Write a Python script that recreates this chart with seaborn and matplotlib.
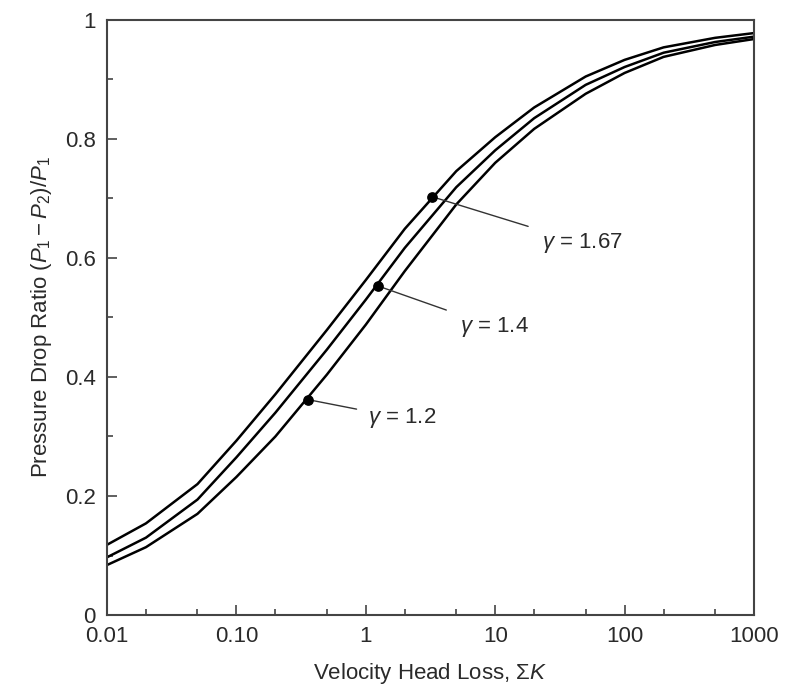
import pandas as pd
import numpy as np
import matplotlib
matplotlib.use('Agg')
import matplotlib.pyplot as plt
import matplotlib.ticker as mticker
import seaborn as sns

# values
k_loss = [0.01, 0.02, 0.05, 0.1, 0.2, 0.5, 1, 2, 5, 10, 20, 50, 100, 200, 500, 1000]
ratio_167 = [0.118, 0.154, 0.220, 0.293, 0.371, 0.479, 0.563, 0.649, 0.746, 0.803,
             0.853, 0.905, 0.933, 0.954, 0.970, 0.978]
ratio_14 = [0.097, 0.130, 0.194, 0.265, 0.340, 0.446, 0.530, 0.617, 0.719, 0.781,
            0.835, 0.891, 0.921, 0.945, 0.963, 0.972]
ratio_12 = [0.084, 0.114, 0.170, 0.232, 0.300, 0.404, 0.488, 0.578, 0.690, 0.760,
            0.817, 0.876, 0.911, 0.938, 0.958, 0.968]
gammas = ['1.67', '1.4', '1.2']

# labelled points on each curve
dot_k = [3.25, 1.24, 0.357]
dot_y = [0.703, 0.553, 0.362]

x_ticks = [0.01, 0.1, 1, 10, 100, 1000]
x_ticklabels = ['0.01', '0.10', '1', '10', '100', '1000']
y_ticks = [0, 0.2, 0.4, 0.6, 0.8, 1.0]
y_ticklabels = ['0', '0.2', '0.4', '0.6', '0.8', '1']

df = pd.DataFrame({
    'K': k_loss * 3,
    'ratio': ratio_167 + ratio_14 + ratio_12,
    'gamma': [g for g in gammas for _ in k_loss],
})

sns.set_style('ticks')
plt.rcParams['font.family'] = ['Liberation Sans', 'DejaVu Sans']
plt.rcParams['mathtext.fontset'] = 'custom'
plt.rcParams['mathtext.rm'] = 'Liberation Sans'
plt.rcParams['mathtext.it'] = 'Liberation Sans:italic'
plt.rcParams['mathtext.bf'] = 'Liberation Sans:bold'

fig = plt.figure(figsize=(7.88, 6.87), dpi=100)
ax = fig.add_axes([0.1358, 0.1048, 0.8211, 0.8661])

sns.lineplot(data=df, x='K', y='ratio', hue='gamma', palette=['black'] * 3,
             linewidth=1.8, legend=False, ax=ax)

ax.set_xscale('log')
ax.set_xlim(0.01, 1000)
ax.set_ylim(0, 1)

ax.set_xticks(x_ticks)
ax.set_xticklabels(x_ticklabels)
ax.xaxis.set_minor_locator(mticker.LogLocator(base=10, subs=(2, 5)))
ax.xaxis.set_minor_formatter(mticker.NullFormatter())
ax.set_yticks(y_ticks)
ax.set_yticklabels(y_ticklabels)
ax.yaxis.set_minor_locator(mticker.MultipleLocator(0.1))

ax.tick_params(which='major', direction='in', length=7, width=1.2, color='#444444',
               labelsize=16, pad=8, labelcolor='#2a2a2a')
ax.tick_params(which='minor', direction='in', length=4, width=1.2, color='#444444')
for s in ax.spines.values():
    s.set_color('#444444')
    s.set_linewidth(1.5)

ax.set_xlabel(r'Velocity Head Loss, $\Sigma K$', fontsize=16, color='#2a2a2a', labelpad=10)
ax.set_ylabel(r'Pressure Drop Ratio $(P_1 - P_2)/P_1$', fontsize=16, color='#2a2a2a',
              labelpad=8)

# markers and leader lines
ax.scatter(dot_k, dot_y, s=45, color='black', zorder=5)
ax.annotate(r'$\gamma$ = 1.67', xy=(dot_k[0], dot_y[0]), xytext=(23, 0.625),
            fontsize=16, va='center', color='#2a2a2a',
            arrowprops=dict(arrowstyle='-', color='#333333', lw=1, shrinkA=8, shrinkB=0))
ax.annotate(r'$\gamma$ = 1.4', xy=(dot_k[1], dot_y[1]), xytext=(5.35, 0.484),
            fontsize=16, va='center', color='#2a2a2a',
            arrowprops=dict(arrowstyle='-', color='#333333', lw=1, shrinkA=8, shrinkB=0))
ax.annotate(r'$\gamma$ = 1.2', xy=(dot_k[2], dot_y[2]), xytext=(1.04, 0.331),
            fontsize=16, va='center', color='#2a2a2a',
            arrowprops=dict(arrowstyle='-', color='#333333', lw=1, shrinkA=6, shrinkB=0))

fig.savefig('out.png', dpi=100, facecolor='white')
